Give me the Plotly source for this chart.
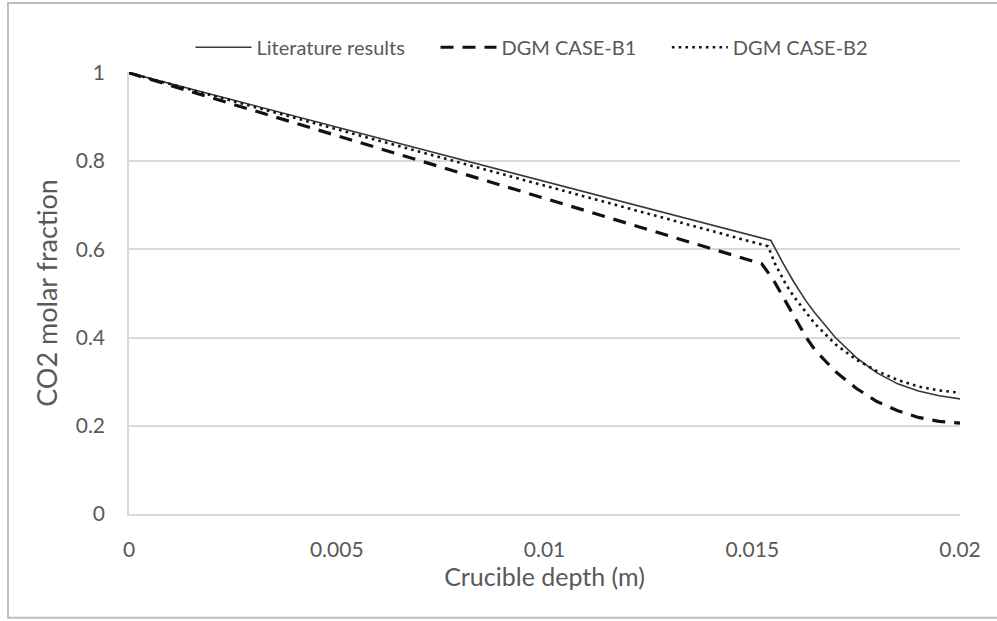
import plotly.graph_objects as go

# Data
lit_x = [0, 0.01545, 0.01575, 0.0160, 0.0163, 0.0165, 0.0170, 0.0175, 0.0180, 0.0185, 0.0190, 0.0195, 0.0200]
lit_y = [1.0, 0.620, 0.567, 0.526, 0.482, 0.457, 0.400, 0.355, 0.320, 0.295, 0.279, 0.268, 0.261]

b1_x = [0, 0.01523, 0.0155, 0.0158, 0.0160, 0.0163, 0.0165, 0.0170, 0.0175, 0.0180, 0.0185, 0.0190, 0.0195, 0.0200]
b1_y = [1.0, 0.567, 0.532, 0.483, 0.448, 0.400, 0.373, 0.323, 0.285, 0.255, 0.234, 0.219, 0.210, 0.206]

b2_x = [0, 0.01538, 0.01555, 0.0158, 0.0160, 0.0163, 0.0165, 0.0170, 0.0175, 0.0180, 0.0185, 0.0190, 0.0195, 0.0200]
b2_y = [1.0, 0.607, 0.567, 0.522, 0.493, 0.455, 0.432, 0.385, 0.350, 0.324, 0.304, 0.289, 0.280, 0.275]

names = ["Literature results", "DGM CASE-B1", "DGM CASE-B2"]
x_ticks = [0, 0.005, 0.01, 0.015, 0.02]
x_tick_labels = ["0", "0.005", "0.01", "0.015", "0.02"]
y_ticks = [0, 0.2, 0.4, 0.6, 0.8, 1]
y_tick_labels = ["0", "0.2", "0.4", "0.6", "0.8", "1"]

FONT = "Lato"
GRAY = "#595959"
GRID = "#d9d9d9"
PAD = "\u00a0" * 5

fig = go.Figure()
fig.add_trace(go.Scatter(x=lit_x, y=lit_y, mode="lines", name=names[0] + PAD,
                         line=dict(color="#383838", width=1.6)))
fig.add_trace(go.Scatter(x=b1_x, y=b1_y, mode="lines", name=names[1] + PAD,
                         line=dict(color="#111111", width=3.2, dash="13px,9px")))
fig.add_trace(go.Scatter(x=b2_x, y=b2_y, mode="lines", name=names[2],
                         line=dict(color="#111111", width=2.6, dash="2.6px,4.2px")))

fig.update_layout(
    width=997, height=621,
    margin=dict(l=129, r=37, t=72, b=107),
    paper_bgcolor="white", plot_bgcolor="white",
    font=dict(family=FONT, color=GRAY, size=21),
    showlegend=True,
    legend=dict(orientation="h", x=0.485, xanchor="center", y=1.056, yanchor="middle",
                font=dict(size=20, color=GRAY), itemwidth=56,
                bgcolor="rgba(0,0,0,0)"),
    xaxis=dict(range=[0, 0.02], tickvals=x_ticks, ticktext=x_tick_labels,
               showgrid=False, zeroline=False, showline=True, linecolor=GRID, linewidth=1.5,
               ticks="", ticklabelstandoff=16, tickfont=dict(size=21, color=GRAY),
               title=dict(text="Crucible depth (m)", font=dict(size=25, color=GRAY), standoff=8)),
    yaxis=dict(range=[0, 1.002], tickvals=y_ticks, ticktext=y_tick_labels,
               showgrid=True, gridcolor=GRID, gridwidth=1.5,
               zeroline=False, showline=True, linecolor=GRID, linewidth=1.5,
               ticks="", ticklabelstandoff=18, tickfont=dict(size=21, color=GRAY),
               title=dict(text="CO2 molar fraction", font=dict(size=27, color=GRAY), standoff=10)),
    shapes=[dict(type="rect", xref="paper", yref="paper",
                 x0=-0.1456, x1=1.06, y0=-0.235, y1=1.156,
                 line=dict(color="#bfbfbf", width=2), fillcolor="rgba(0,0,0,0)", layer="below")],
)

fig.write_html("out.html")
